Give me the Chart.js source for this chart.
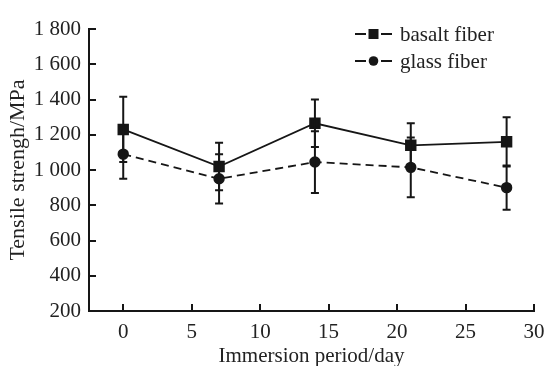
<!DOCTYPE html>
<html>
<head>
<meta charset="utf-8">
<script src="https://cdn.jsdelivr.net/npm/chart.js@4/dist/chart.umd.min.js"></script>
<style>
  html, body { margin: 0; padding: 0; background: #fff; }
  #wrap { width: 547px; height: 366px; }
</style>
</head>
<body>
<div id="wrap"><canvas id="chart" width="547" height="366"></canvas></div>
<script>
// immersion days and measured strengths (MPa)
const days = [0, 7, 14, 21, 28];
const basaltMean = [1230, 1020, 1265, 1140, 1160];
const basaltErr = [185, 135, 135, 125, 140];
const glassMean = [1090, 950, 1045, 1015, 900];
const glassErr = [140, 140, 175, 170, 125];

const xTicks = [0, 5, 10, 15, 20, 25, 30];
const yTicks = [200, 400, 600, 800, 1000, 1200, 1400, 1600, 1800];

const INK = '#161616';
const TEXT = '#222';
const SERIF = '"Liberation Serif", "DejaVu Serif", serif';

const toPoints = (vals) => days.map((d, i) => ({ x: d, y: vals[i] }));

// 1800 -> "1 800"
const fmtThousands = (v) => {
  const s = String(v);
  return s.length > 3 ? s.slice(0, -3) + ' ' + s.slice(-3) : s;
};

// tick marks pointing into the plot area
const innerTicks = {
  id: 'innerTicks',
  afterDraw(chart) {
    const { ctx, scales: { x, y } } = chart;
    const len = 7;
    ctx.save();
    ctx.strokeStyle = INK;
    ctx.lineWidth = 2;
    ctx.beginPath();
    x.ticks.forEach((t) => {
      const px = Math.round(x.getPixelForValue(t.value));
      ctx.moveTo(px, y.bottom); ctx.lineTo(px, y.bottom - len);
    });
    y.ticks.forEach((t) => {
      const py = Math.round(y.getPixelForValue(t.value));
      ctx.moveTo(x.left, py); ctx.lineTo(x.left + len, py);
    });
    ctx.stroke();
    ctx.restore();
  }
};

// vertical error bars with caps
const errorBars = {
  id: 'errorBars',
  afterDatasetsDraw(chart) {
    const { ctx, scales: { x, y } } = chart;
    ctx.save();
    ctx.strokeStyle = INK;
    ctx.lineWidth = 2;
    chart.data.datasets.forEach((ds) => {
      ds.data.forEach((p, i) => {
        const e = ds.errors[i];
        const px = x.getPixelForValue(p.x);
        const top = y.getPixelForValue(p.y + e);
        const bot = y.getPixelForValue(p.y - e);
        ctx.beginPath();
        ctx.moveTo(px, top); ctx.lineTo(px, bot);
        ctx.moveTo(px - 4, top); ctx.lineTo(px + 4, top);
        ctx.moveTo(px - 4, bot); ctx.lineTo(px + 4, bot);
        ctx.stroke();
      });
    });
    ctx.restore();
  }
};

// legend: short line - marker - short line, then label
const sideLegend = {
  id: 'sideLegend',
  afterDraw(chart) {
    const { ctx } = chart;
    const x0 = 355, rowY = [34, 61];
    ctx.save();
    chart.data.datasets.forEach((ds, i) => {
      const yy = rowY[i];
      ctx.strokeStyle = INK;
      ctx.lineWidth = 2;
      ctx.beginPath();
      ctx.moveTo(x0, yy); ctx.lineTo(x0 + 11, yy);
      ctx.moveTo(x0 + 26, yy); ctx.lineTo(x0 + 37, yy);
      ctx.stroke();
      ctx.fillStyle = INK;
      if (ds.pointStyle === 'rect') {
        ctx.fillRect(x0 + 13.5, yy - 5, 10, 10);
      } else {
        ctx.beginPath();
        ctx.arc(x0 + 18.5, yy, 4.8, 0, Math.PI * 2);
        ctx.fill();
      }
      ctx.fillStyle = TEXT;
      ctx.font = '21px ' + SERIF;
      ctx.textBaseline = 'middle';
      ctx.fillText(ds.label, x0 + 45, yy + 1);
    });
    ctx.restore();
  }
};

new Chart(document.getElementById('chart'), {
  type: 'line',
  data: {
    datasets: [
      {
        label: 'basalt fiber',
        data: toPoints(basaltMean),
        errors: basaltErr,
        borderColor: INK,
        backgroundColor: INK,
        borderWidth: 1.8,
        pointStyle: 'rect',
        pointRadius: 6.8,
        tension: 0,
      },
      {
        label: 'glass fiber',
        data: toPoints(glassMean),
        errors: glassErr,
        borderColor: INK,
        backgroundColor: INK,
        borderWidth: 1.8,
        borderDash: [8, 5],
        pointStyle: 'circle',
        pointRadius: 4.8,
        tension: 0,
      },
    ],
  },
  options: {
    responsive: false,
    animation: false,
    layout: { padding: { left: 0, right: 13, top: 29, bottom: 0 } },
    plugins: { legend: { display: false }, tooltip: { enabled: false } },
    scales: {
      x: {
        type: 'linear',
        min: -2.5,
        max: 30,
        afterBuildTicks: (s) => { s.ticks = xTicks.map((v) => ({ value: v })); },
        afterFit: (s) => {
          s.height = 55;
          s.paddingLeft = 0;
          s.paddingRight = 0;
        },
        border: { display: true, color: INK, width: 2 },
        grid: { display: false, drawTicks: false },
        ticks: {
          color: TEXT,
          font: { family: SERIF, size: 21 },
          padding: 9,
          maxRotation: 0,
        },
        title: {
          display: true,
          text: 'Immersion period/day',
          color: TEXT,
          font: { family: SERIF, size: 21, lineHeight: 1 },
          padding: { top: 0, bottom: -1 },
        },
      },
      y: {
        min: 200,
        max: 1800,
        afterBuildTicks: (s) => { s.ticks = yTicks.map((v) => ({ value: v })); },
        afterFit: (s) => { s.width = 89; },
        border: { display: true, color: INK, width: 2 },
        grid: { display: false, drawTicks: false },
        ticks: {
          color: TEXT,
          font: { family: SERIF, size: 21 },
          padding: 8,
          callback: (v) => fmtThousands(v),
        },
        title: {
          display: true,
          text: 'Tensile strengh/MPa',
          color: TEXT,
          font: { family: SERIF, size: 22, lineHeight: 1 },
          padding: { top: 7, bottom: 0 },
        },
      },
    },
  },
  plugins: [errorBars, innerTicks, sideLegend],
});
</script>
</body>
</html>
